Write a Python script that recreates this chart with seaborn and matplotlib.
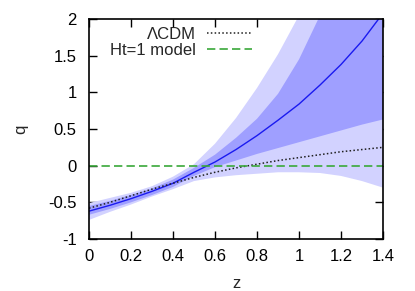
import matplotlib
matplotlib.use('Agg')
import matplotlib.pyplot as plt
import numpy as np
import pandas as pd
import seaborn as sns

sns.set_style("ticks")
plt.rcParams['font.family'] = ['Liberation Sans', 'DejaVu Sans']

# redshift grid and values
z = [0.0, 0.1, 0.2, 0.3, 0.4, 0.5, 0.6, 0.7, 0.8, 0.9, 1.0, 1.1, 1.2, 1.3, 1.4]
q_fit = [-0.62, -0.54, -0.45, -0.35, -0.24, -0.09, 0.05, 0.22, 0.41, 0.62, 0.84, 1.10, 1.38, 1.70, 2.08]
q_1s_hi = [-0.55, -0.48, -0.40, -0.31, -0.19, -0.03, 0.15, 0.38, 0.64, 0.98, 1.45, 2.05, 2.70, 3.40, 4.20]
q_1s_lo = [-0.67, -0.59, -0.50, -0.40, -0.29, -0.14, -0.02, 0.07, 0.16, 0.24, 0.32, 0.40, 0.48, 0.56, 0.63]
q_2s_hi = [-0.51, -0.44, -0.37, -0.28, -0.15, 0.02, 0.30, 0.65, 1.06, 1.52, 2.05, 2.65, 3.30, 4.00, 4.80]
q_2s_lo = [-0.74, -0.63, -0.53, -0.42, -0.32, -0.21, -0.16, -0.13, -0.11, -0.09, -0.09, -0.10, -0.14, -0.21, -0.30]
q_lcdm = [-0.58, -0.50, -0.41, -0.32, -0.24, -0.16, -0.09, -0.03, 0.02, 0.07, 0.11, 0.15, 0.19, 0.22, 0.25]
q_ht1 = [0.0] * len(z)

df = pd.DataFrame({'z': z, 'fit': q_fit, 'lcdm': q_lcdm, 'ht1': q_ht1})

fig = plt.figure(figsize=(4.15, 2.91), dpi=100)
ax = fig.add_axes([0.2145, 0.1787, 0.7085, 0.756])

# confidence bands (2 sigma light, 1 sigma dark)
ax.fill_between(z, q_2s_lo, q_2s_hi, color='#d2d2ff', lw=0)
ax.fill_between(z, q_1s_lo, q_1s_hi, color='#9f9fff', lw=0)

sns.lineplot(data=df, x='z', y='fit', ax=ax, color='#1a1af0', lw=1.0)
sns.lineplot(data=df, x='z', y='lcdm', ax=ax, color='#202020', lw=1.1,
             linestyle=(0, (1, 1.5)), label='ΛCDM')
sns.lineplot(data=df, x='z', y='ht1', ax=ax, color='#3aa83a', lw=1.2,
             linestyle=(0, (5, 2.5)), label='Ht=1 model')

ax.set_xlim(0, 1.4)
ax.set_ylim(-1, 2)
ax.set_xticks([0, 0.2, 0.4, 0.6, 0.8, 1, 1.2, 1.4])
ax.set_xticklabels(['0', '0.2', '0.4', '0.6', '0.8', '1', '1.2', '1.4'])
ax.set_yticks([-1, -0.5, 0, 0.5, 1, 1.5, 2])
ax.set_yticklabels(['-1', '-0.5', '0', '0.5', '1', '1.5', '2'])
ax.tick_params(direction='in', top=True, right=True, length=6, width=1,
               labelsize=12, colors='black', pad=7)
ax.tick_params(axis='y', pad=9)
for s in ax.spines.values():
    s.set_linewidth(1.2)
    s.set_color('black')

ax.set_xlabel('z', fontsize=12, labelpad=9)
ax.set_ylabel('q', fontsize=12, rotation=90, labelpad=14)

leg = ax.legend(loc='upper right', bbox_to_anchor=(0.555, 0.965), frameon=False,
                markerfirst=False, fontsize=12, handlelength=2.7,
                handletextpad=0.7, labelspacing=0.05, borderpad=0, borderaxespad=0)

fig.savefig('out.png', dpi=100)
